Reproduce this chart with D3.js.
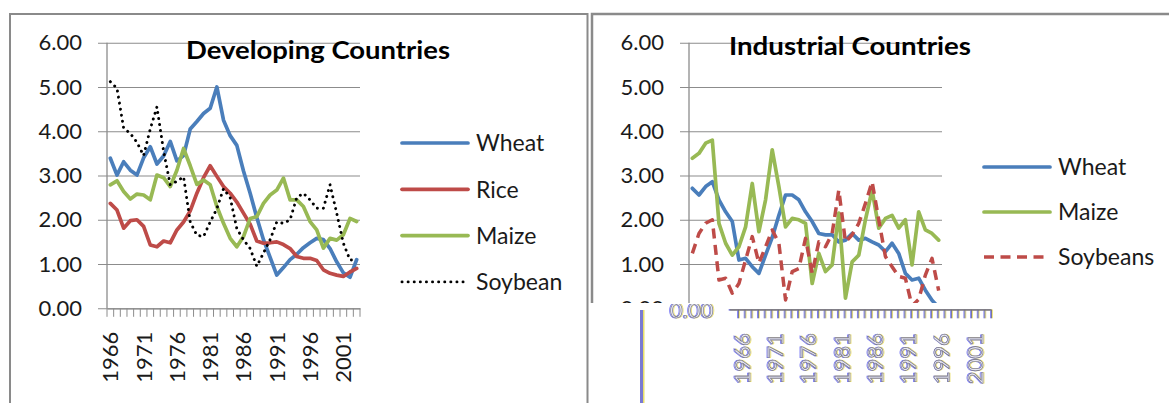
<!DOCTYPE html>
<html>
<head>
<meta charset="utf-8">
<script src="https://cdn.jsdelivr.net/npm/d3@7"></script>
<style>
  html, body { margin: 0; padding: 0; background: #ffffff; }
  svg { display: block; font-family: Lato, "Open Sans", "Liberation Sans", sans-serif; }
</style>
</head>
<body>
<svg id="chart" width="1169" height="403"></svg>
<script>
// ---- categories and tick labels ----
const years = [1966,1967,1968,1969,1970,1971,1972,1973,1974,1975,
               1976,1977,1978,1979,1980,1981,1982,1983,1984,1985,
               1986,1987,1988,1989,1990,1991,1992,1993,1994,1995,
               1996,1997,1998,1999,2000,2001,2002,2003];
const yearLabels = [1966,1971,1976,1981,1986,1991,1996,2001];
const yTicks = [0,1,2,3,4,5,6];

// ---- Developing countries ----
const devWheat   = [3.39,3.01,3.31,3.12,3.01,3.40,3.65,3.26,3.44,3.77,
                    3.33,3.45,4.05,4.22,4.40,4.52,5.00,4.25,3.90,3.68,
                    3.10,2.60,2.05,1.55,1.15,0.75,0.92,1.10,1.22,1.37,
                    1.48,1.58,1.55,1.35,1.05,0.80,0.70,1.10];
const devRice    = [2.37,2.22,1.81,1.98,2.00,1.85,1.43,1.39,1.52,1.48,
                    1.77,1.95,2.20,2.60,2.95,3.22,2.98,2.75,2.60,2.40,
                    2.15,1.90,1.52,1.47,1.48,1.50,1.44,1.35,1.17,1.13,
                    1.13,1.08,0.87,0.79,0.75,0.72,0.82,0.90];
const devMaize   = [2.79,2.88,2.64,2.47,2.58,2.56,2.45,3.01,2.95,2.75,
                    3.12,3.61,3.22,2.80,2.90,2.79,2.30,1.92,1.58,1.39,
                    1.62,2.03,2.07,2.37,2.56,2.67,2.94,2.45,2.45,2.30,
                    1.96,1.77,1.36,1.58,1.54,1.66,2.03,1.96];
const devSoybean = [5.12,4.97,4.07,3.95,3.75,3.45,4.05,4.55,3.55,2.79,
                    2.87,2.97,1.95,1.65,1.62,1.95,2.25,2.70,2.50,1.80,
                    1.55,1.35,0.95,1.25,1.55,1.95,1.92,2.00,2.50,2.60,
                    2.45,2.26,2.26,2.79,2.15,1.47,1.09,1.09];

// ---- Industrial countries ----
const indWheat    = [2.71,2.56,2.75,2.86,2.45,2.18,1.96,1.09,1.13,0.94,
                     0.79,1.20,1.60,2.10,2.56,2.56,2.45,2.18,1.96,1.69,
                     1.66,1.66,1.50,1.54,1.69,1.54,1.58,1.50,1.43,1.28,
                     1.47,1.24,0.79,0.64,0.68,0.41,0.18,0.02];
const indMaize    = [3.39,3.50,3.73,3.80,1.92,1.47,1.20,1.39,1.84,2.82,
                     1.73,2.45,3.58,2.75,1.84,2.03,2.00,1.92,0.56,1.24,
                     0.83,0.98,2.15,0.23,1.05,1.20,2.00,2.67,1.81,2.03,
                     2.10,1.81,2.00,0.98,2.18,1.77,1.69,1.54];
const indSoybeans = [1.24,1.69,1.92,2.00,0.64,0.68,0.34,0.56,1.09,1.62,
                     1.02,1.39,1.77,1.47,0.19,0.83,0.90,1.58,0.79,1.50,
                     1.39,1.69,2.67,1.50,1.66,1.92,2.37,2.86,2.00,1.17,
                     0.94,0.72,0.68,0.05,0.20,0.75,1.13,0.40];

const BLUE = "#4A7EBB", RED = "#BE4B48", GREEN = "#98B954", BLACK = "#000000";
const GRID = "#8c8c8c", TEXT = "#1a1a1a";

const devSeries = [
  { name: "Wheat",   values: devWheat,   color: BLUE,  style: "solid" },
  { name: "Rice",    values: devRice,    color: RED,   style: "solid" },
  { name: "Maize",   values: devMaize,   color: GREEN, style: "solid" },
  { name: "Soybean", values: devSoybean, color: BLACK, style: "dot" }
];
const indSeries = [
  { name: "Wheat",    values: indWheat,    color: BLUE,  style: "solid" },
  { name: "Maize",    values: indMaize,    color: GREEN, style: "solid" },
  { name: "Soybeans", values: indSoybeans, color: RED,   style: "dash" }
];

const svg = d3.select("#chart");
const y = d3.scaleLinear().domain([0, 6]).range([308.3, 42.7]);

function strokeStyle(sel, s) {
  sel.attr("fill", "none").attr("stroke", s.color).attr("stroke-linejoin", "round");
  if (s.style === "dot") {
    sel.attr("stroke-width", 2.9).attr("stroke-linecap", "round").attr("stroke-dasharray", "0.1 6");
  } else if (s.style === "dash") {
    sel.attr("stroke-width", 3.5).attr("stroke-linecap", "butt").attr("stroke-dasharray", "10 6.5");
  } else {
    sel.attr("stroke-width", 3.7).attr("stroke-linecap", "round");
  }
}

// Axis furniture of one panel (grid, y labels, category ticks, year labels)
function drawAxes(g, cfg, x) {
  const yAxis = d3.axisLeft(y).tickValues(yTicks).tickFormat(d3.format(".2f"))
    .tickSizeInner(9).tickSizeOuter(0).tickPadding(16);
  const ga = g.append("g").attr("transform", `translate(${cfg.x0},0)`).call(yAxis);
  ga.select(".domain").remove();
  ga.selectAll(".tick line").attr("x1", cfg.x1 - cfg.x0).attr("x2", -9)
    .attr("stroke", GRID).attr("stroke-width", 1.1);
  ga.selectAll(".tick text").attr("font-size", 22).attr("fill", TEXT)
    .attr("font-family", "Lato, sans-serif");

  // vertical value axis
  g.append("line").attr("x1", cfg.x0).attr("x2", cfg.x0)
    .attr("y1", y(0)).attr("y2", y(6)).attr("stroke", GRID).attr("stroke-width", 1.3);

  // category axis with boundary tick marks
  const xAxis = d3.axisBottom(x).tickValues(yearLabels).tickSize(0).tickPadding(0);
  const gx = g.append("g").attr("transform", `translate(0,${y(0)})`).call(xAxis);
  gx.select(".domain").attr("stroke", GRID).attr("stroke-width", 1.3);
  gx.selectAll(".tick text")
    .attr("font-size", 22).attr("fill", TEXT).attr("font-family", "Lato, sans-serif")
    .attr("transform", "rotate(-90)").attr("x", -23.4).attr("y", 0).attr("dy", "0.36em")
    .style("text-anchor", "end");
  const bounds = years.map(d => x(d)).concat([x.range()[1]]);
  g.append("g").selectAll("line").data(bounds).join("line")
    .attr("x1", d => d).attr("x2", d => d)
    .attr("y1", y(0)).attr("y2", y(0) + 8.5)
    .attr("stroke", GRID).attr("stroke-width", 1);
}

function drawPanel(cfg, series) {
  const g = svg.append("g");
  const x = d3.scaleBand().domain(years).range([cfg.x0, cfg.x1]);
  const cx = d => x(d) + x.bandwidth() / 2;

  drawAxes(g, cfg, x);

  const line = d3.line().x((d, i) => cx(years[i])).y(d => y(d));
  series.forEach(s => {
    g.append("path").attr("d", line(s.values)).call(strokeStyle, s);
  });

  g.append("text").attr("x", cfg.titleX).attr("y", cfg.titleY)
    .attr("text-anchor", "middle").attr("font-weight", "bold")
    .attr("font-size", 24).attr("fill", "#000")
    .attr("textLength", cfg.titleW).attr("lengthAdjust", "spacingAndGlyphs")
    .text(cfg.title);

  const leg = g.append("g");
  series.forEach((s, i) => {
    const ly = cfg.legY + i * cfg.legStep;
    leg.append("line").attr("x1", cfg.legX).attr("x2", cfg.legX + 66)
      .attr("y1", ly).attr("y2", ly).call(strokeStyle, s);
    leg.append("text").attr("x", cfg.legX + 74).attr("y", ly).attr("dy", "0.36em")
      .attr("font-size", 23).attr("fill", TEXT).text(s.name);
  });
  return x;
}

// panel frames
svg.append("path").attr("d", "M10,403 V14 H587.5 V403")
  .attr("fill", "none").attr("stroke", "#8a8a8a").attr("stroke-width", 2);
svg.append("path").attr("d", "M592,303 V14 H1169")
  .attr("fill", "none").attr("stroke", "#8a8a8a").attr("stroke-width", 2.5);

const devCfg = { x0: 107, x1: 360, title: "Developing Countries", titleX: 318, titleY: 59, titleW: 264,
                 legX: 402, legY: 143, legStep: 46.3 };
const indCfg = { x0: 689, x1: 942, title: "Industrial Countries", titleX: 850, titleY: 55, titleW: 242,
                 legX: 984, legY: 167, legStep: 45 };

drawPanel(devCfg, devSeries);
const xInd = drawPanel(indCfg, indSeries);

// lower strip of the industrial panel: blanked and redrawn offset, with colour fringing
svg.append("rect").attr("x", 589).attr("y", 303).attr("width", 580).attr("height", 100)
  .attr("fill", "#ffffff");

svg.append("defs").append("clipPath").attr("id", "strip")
  .append("rect").attr("x", 589).attr("y", 304).attr("width", 580).attr("height", 99);

const strip = svg.append("g").attr("clip-path", "url(#strip)");
const fringe = [
  { dx: -0.9, color: "#4a4af0", op: 0.8, fill: "none", sw: 0.8 },
  { dx: 0.9,  color: "#e4d640", op: 0.75, fill: "none", sw: 0.8 },
  { dx: 0,    color: "#6c6c84", op: 1,   fill: "#e6e6f2", sw: 0.6 }
];
fringe.forEach(f => {
  const s = strip.append("g").attr("transform", `translate(${49.5 + f.dx},1.5)`)
    .attr("opacity", f.op);
  // value label at zero
  s.append("text").attr("x", 664).attr("y", y(0)).attr("dy", "0.36em")
    .attr("text-anchor", "end").attr("font-size", 22)
    .attr("fill", f.fill).attr("stroke", f.color).attr("stroke-width", f.sw)
    .text(d3.format(".2f")(yTicks[0]));
  // category axis
  s.append("line").attr("x1", 680).attr("x2", 942).attr("y1", y(0)).attr("y2", y(0))
    .attr("stroke", f.color).attr("stroke-width", 1.2);
  const bounds = years.map(d => xInd(d)).concat([xInd.range()[1]]);
  s.append("g").selectAll("line").data(bounds).join("line")
    .attr("x1", d => d).attr("x2", d => d).attr("y1", y(0)).attr("y2", y(0) + 8.5)
    .attr("stroke", f.color).attr("stroke-width", 0.9);
  s.append("g").selectAll("text").data(yearLabels).join("text")
    .attr("transform", d => `translate(${xInd(d) + xInd.bandwidth() / 2},${y(0)}) rotate(-90)`)
    .attr("x", -23.4).attr("dy", "0.36em").attr("text-anchor", "end")
    .attr("font-size", 22).attr("fill", f.fill).attr("stroke", f.color).attr("stroke-width", f.sw)
    .text(d => d);
});
// frame edge carried into the strip
svg.append("rect").attr("x", 640).attr("y", 310).attr("width", 3).attr("height", 93).attr("fill", "#7a7ad2");
svg.append("rect").attr("x", 643).attr("y", 310).attr("width", 1.5).attr("height", 93).attr("fill", "#e8df6a");
</script>
</body>
</html>
